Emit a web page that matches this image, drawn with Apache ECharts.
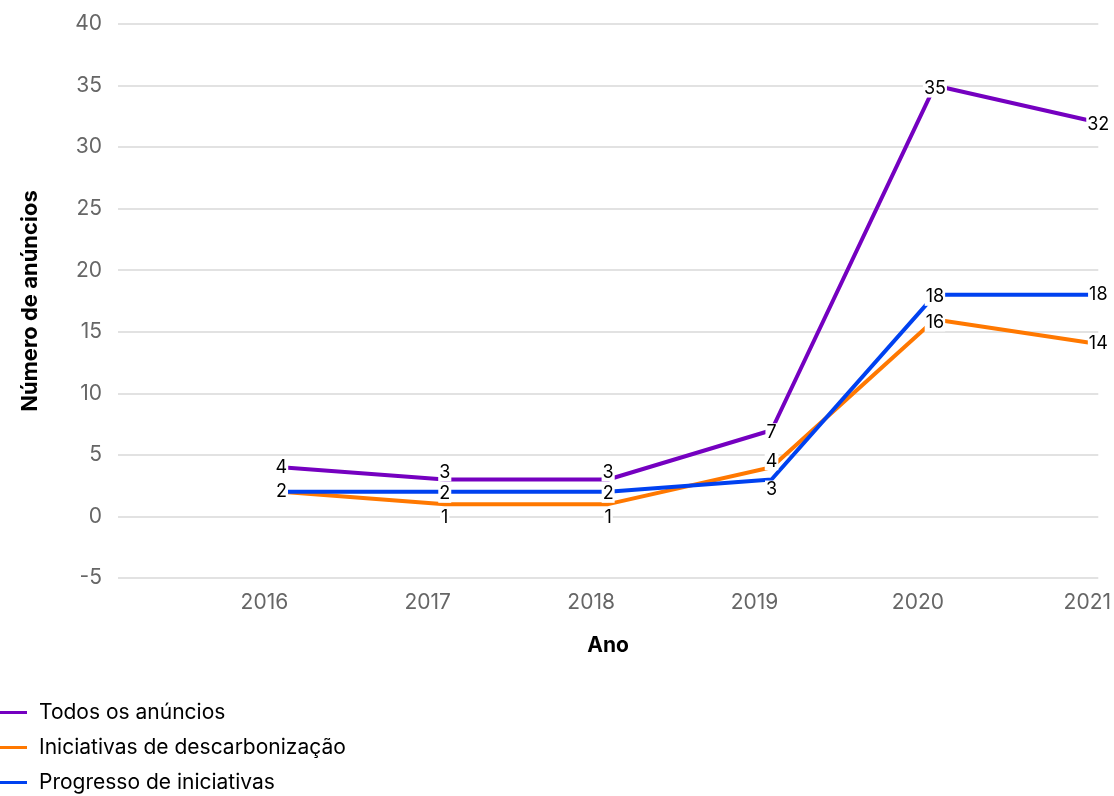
<!DOCTYPE html>
<html><head><meta charset="utf-8">
<script src="https://cdn.jsdelivr.net/npm/echarts@6/dist/echarts.min.js"></script>
<style>html,body{margin:0;padding:0;background:#fff}#c{width:1114px;height:796px}</style>
</head><body><div id="c"></div>
<script>
const years = [2016, 2017, 2018, 2019, 2020, 2021];
const todos = [4, 3, 3, 7, 35, 32];
const descarbonizacao = [2, 1, 1, 4, 16, 14];
const progresso = [2, 2, 2, 3, 18, 18];
const seriesNames = ['Todos os anúncios', 'Iniciativas de descarbonização', 'Progresso de iniciativas'];
const colors = ['#7500C0', '#FF7800', '#0041F0'];
// label vertical offsets per point (style only)
const labelOffsets = [
  [0, -7, -7, 2, 3, 2],
  [0, 13, 13, -6, 3, 0],
  [0, 2, 2, 10, 2, 0]
];
const FONT = 'Inter, "Noto Sans", sans-serif';
function toPts(vals) { return vals.map((v, k) => [years[k], v]); }
function lineSeries(i, vals) {
  return {
    name: seriesNames[i], type: 'line', color: colors[i], z: 2,
    symbol: 'none', lineStyle: { width: 4, color: colors[i] },
    data: toPts(vals)
  };
}
function labelSeries(i, vals) {
  return {
    name: seriesNames[i], type: 'scatter', color: colors[i], z: 10,
    symbolSize: 0, silent: true,
    itemStyle: { opacity: 1 },
    data: toPts(vals),
    label: {
      show: true, position: 'inside', color: '#000', opacity: 1, fontSize: 18, fontFamily: FONT,
      backgroundColor: '#fff', padding: [0, 1], formatter: p => p.value[1]
    },
    emphasis: { disabled: true },
    labelLayout: p => ({ dy: labelOffsets[i][p.dataIndex], hideOverlap: false })
  };
}
const chart = echarts.init(document.getElementById('c'));
chart.setOption({
  animation: false,
  textStyle: { fontFamily: FONT },
  grid: { left: 118, right: 10, top: 24, bottom: 218 },
  legend: {
    left: 0, top: 702, height: 94, orient: 'vertical', itemWidth: 27, itemHeight: 3, itemGap: 14,
    padding: 0, icon: 'rect', data: seriesNames,
    textStyle: { fontSize: 21, color: '#000', fontFamily: FONT, padding: [0, 0, 0, 7] }
  },
  xAxis: {
    type: 'value', min: 2015, max: 2021, interval: 1,
    name: 'Ano', nameLocation: 'middle', nameGap: 57,
    nameTextStyle: { fontSize: 21, fontWeight: 'bold', color: '#000', fontFamily: FONT },
    axisLine: { show: false }, axisTick: { show: false }, splitLine: { show: false },
    axisLabel: {
      fontSize: 21, color: '#666', margin: 14, fontFamily: FONT,
      formatter: v => (v === 2015 ? '' : (v === 2021 ? '{b|' + v + '}' : '{a|' + v + '}')),
      rich: {
        a: { fontSize: 21, color: '#666', fontFamily: FONT, padding: [0, 34, 0, 0] },
        b: { fontSize: 21, color: '#666', fontFamily: FONT, padding: [0, 22, 0, 0] }
      }
    }
  },
  yAxis: {
    type: 'value', min: -5, max: 40, interval: 5,
    name: 'Número de anúncios', nameLocation: 'middle', nameGap: 77,
    nameTextStyle: { fontSize: 22, fontWeight: 'bold', color: '#000', fontFamily: FONT },
    axisLine: { show: false }, axisTick: { show: false },
    splitLine: { lineStyle: { color: '#d9d9d9', width: 1.5 } },
    axisLabel: { fontSize: 21, color: '#666', margin: 16, fontFamily: FONT }
  },
  series: [
    lineSeries(0, todos), lineSeries(1, descarbonizacao), lineSeries(2, progresso),
    labelSeries(0, todos), labelSeries(1, descarbonizacao), labelSeries(2, progresso)
  ]
});
</script></body></html>
